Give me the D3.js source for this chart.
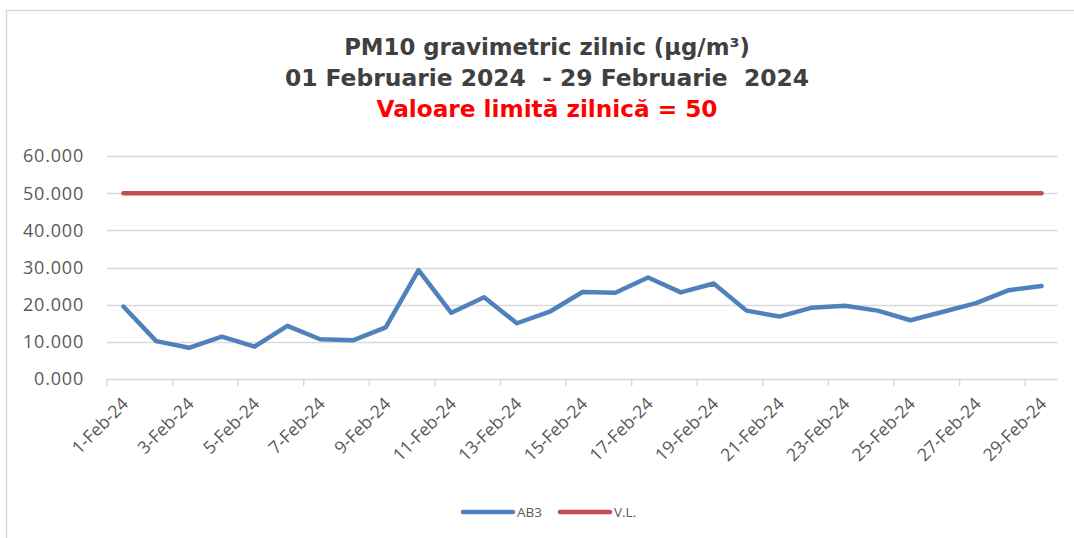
<!DOCTYPE html>
<html><head><meta charset="utf-8">
<script src="https://cdn.jsdelivr.net/npm/d3@7"></script>
<style>body{margin:0;background:#fff}svg{display:block}</style>
</head><body>
<svg id="c" width="1074" height="538"></svg>
<script>
const categories = ["1-Feb-24","2-Feb-24","3-Feb-24","4-Feb-24","5-Feb-24","6-Feb-24","7-Feb-24","8-Feb-24","9-Feb-24","10-Feb-24","11-Feb-24","12-Feb-24","13-Feb-24","14-Feb-24","15-Feb-24","16-Feb-24","17-Feb-24","18-Feb-24","19-Feb-24","20-Feb-24","21-Feb-24","22-Feb-24","23-Feb-24","24-Feb-24","25-Feb-24","26-Feb-24","27-Feb-24","28-Feb-24","29-Feb-24"];
const ab3 = [19.5,10.2,8.4,11.4,8.7,14.3,10.7,10.4,13.9,29.3,17.8,22.0,15.0,18.1,23.4,23.2,27.3,23.3,25.7,18.4,16.8,19.2,19.7,18.4,15.8,18.1,20.4,23.9,25.0];
const vl = categories.map(() => 50);
const yTicks = [0,10,20,30,40,50,60];
const titleLines = ["PM10 gravimetric zilnic (µg/m³)","01 Februarie 2024  - 29 Februarie  2024"];
const subtitle = "Valoare limită zilnică = 50";
const seriesNames = ["AB3","V.L."];

const svg = d3.select("#c");
svg.append("rect").attr("x",6.5).attr("y",10.5).attr("width",1100).attr("height",600)
  .attr("fill","none").attr("stroke","#d9d9d9").attr("stroke-width",1.5);

const L=107, R=1058, T=156, B=379;
const x = d3.scaleBand().domain(categories).range([L,R]).padding(0);
const y = d3.scaleLinear().domain([0,60]).range([B,T]);

// gridlines
svg.append("g").selectAll("line").data(yTicks.filter(d=>d>0)).join("line")
  .attr("x1",L).attr("x2",R).attr("y1",d=>Math.round(y(d))+0.5).attr("y2",d=>Math.round(y(d))+0.5)
  .attr("stroke","#d9d9d9").attr("stroke-width",1.5);

// y labels
svg.append("g").selectAll("text").data(yTicks).join("text")
  .attr("x",84).attr("y",d=>y(d)).attr("dy","0.36em").attr("text-anchor","end")
  .attr("font-family","'Open Sans', sans-serif").attr("font-size",18).attr("letter-spacing",0.8).attr("fill","#595959")
  .text(d=>d3.format(".3f")(d));

// x axis baseline and ticks
const xa = svg.append("g");
xa.append("line").attr("x1",L).attr("x2",R).attr("y1",B+0.5).attr("y2",B+0.5).attr("stroke","#d9d9d9").attr("stroke-width",1.5);
const tickIdx = d3.range(0,categories.length+1,2);
xa.selectAll("line.t").data(tickIdx).join("line").attr("class","t")
  .attr("x1",i=> i<categories.length ? x(categories[i]) : R).attr("x2",i=> i<categories.length ? x(categories[i]) : R)
  .attr("y1",B).attr("y2",B+7).attr("stroke","#d9d9d9").attr("stroke-width",1.5);
xa.selectAll("text").data(categories.filter((d,i)=>i%2===0)).join("text")
  .attr("transform",d=>`translate(${x(d)+x.bandwidth()/2+6},${B+26}) rotate(-45)`)
  .attr("text-anchor","end").attr("font-family","'Open Sans', sans-serif").attr("font-size",17.5).attr("fill","#595959")
  .text(d=>d);

const line = d3.line().x((d,i)=>x(categories[i])+x.bandwidth()/2).y(d=>y(d));
svg.append("path").datum(vl).attr("d",line).attr("fill","none").attr("stroke","#C0504D").attr("stroke-width",4.5).attr("stroke-linecap","round");
svg.append("path").datum(ab3).attr("d",line).attr("fill","none").attr("stroke","#4F81BD").attr("stroke-width",4.5).attr("stroke-linecap","round").attr("stroke-linejoin","round");

// titles
const tg = svg.append("g").attr("font-family","'DejaVu Sans', Verdana, sans-serif").attr("font-weight","bold").attr("text-anchor","middle");
tg.selectAll("text.t").data(titleLines).join("text").attr("class","t")
  .attr("x",547).attr("y",(d,i)=>55+i*31).attr("font-size",(d,i)=>i===0?22.8:23.4).attr("fill","#404040").style("white-space","pre").text(d=>d);
tg.append("text").attr("x",547).attr("y",117).attr("font-size",23.2).attr("fill","#FF0000").text(subtitle);

// legend
const lg = svg.append("g").attr("font-family","'Open Sans', sans-serif").attr("font-size",13.5).attr("fill","#595959");
const legColors = ["#4F81BD","#C0504D"];
const legX = [463,560];
seriesNames.forEach((n,i)=>{
  lg.append("line").attr("x1",legX[i]).attr("x2",legX[i]+50).attr("y1",512).attr("y2",512).attr("stroke",legColors[i]).attr("stroke-width",4.5).attr("stroke-linecap","round");
  lg.append("text").attr("x",legX[i]+54).attr("y",512).attr("dy","0.36em").text(n);
});
</script>
</body></html>
